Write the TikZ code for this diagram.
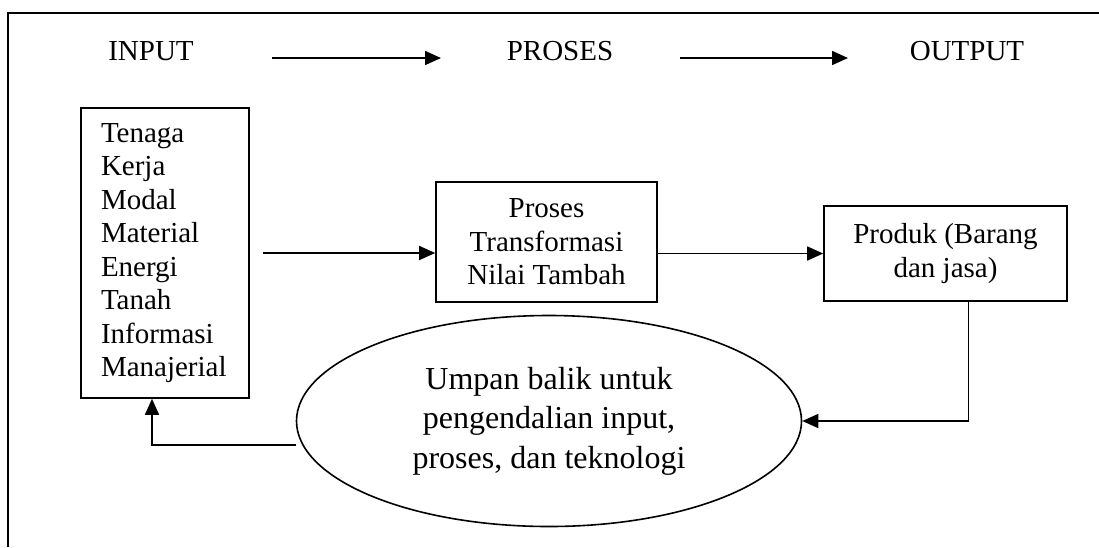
\documentclass[tikz,border=0pt]{standalone}
\usepackage{fontspec}
\setmainfont{Liberation Serif}
\usetikzlibrary{arrows.meta,shapes.geometric}
\begin{document}
\begin{tikzpicture}[x=1pt,y=-1pt,line width=1.6pt,
  arr/.style={-{Triangle[length=16pt,width=14pt]}},
  box/.style={draw,rectangle,font=\fontsize{29}{33.5}\selectfont},
  lbl/.style={font=\fontsize{29}{33.5}\selectfont,anchor=base,inner sep=0pt}]
\useasboundingbox (0,0) rectangle (1099,547);
\draw (8,547) -- (8,13) -- (1099,13);
% header
\node[lbl] (hin) at (151,60) {INPUT};
\node[lbl] (hpro) at (560,60) {PROSES};
\node[lbl] (hout) at (967,60) {OUTPUT};
\coordinate (a1) at (272,58);
\coordinate (a2) at (441,58);
\coordinate (a3) at (680,58);
\coordinate (a4) at (848,58);
\draw [arr] (a1) -- (a2);
\draw [arr] (a3) -- (a4);
% boxes
\node[box,align=left,text width=128pt,inner xsep=20pt,inner ysep=0pt,minimum height=290pt] (inbox) at (165,253)
  {Tenaga\\Kerja\\Modal\\Material\\Energi\\Tanah\\Informasi\\Manajerial};
\node[box,align=center,minimum width=221pt,minimum height=120pt,inner sep=0pt] (proc) at (546.5,242)
  {Proses\\Transformasi\\Nilai Tambah};
\node[box,align=center,minimum width=243pt,minimum height=95pt,inner sep=0pt] (outbox) at (945.5,253.5)
  {Produk (Barang\\dan jasa)};
\node[draw,ellipse,align=center,minimum width=505pt,minimum height=211pt,inner sep=0pt,
  font=\fontsize{32}{39.5}\selectfont] (fb) at (549,421)
  {Umpan balik untuk\\pengendalian input,\\proses, dan teknologi};
% connectors
\draw [arr] ([xshift=13pt]inbox.east) -- (inbox.east -| proc.west);
\draw [arr] (proc.east |- outbox.west) -- (outbox.west);
\draw [arr] ([xshift=23pt]outbox.south) |- (fb.east);
\draw [arr] ([yshift=-24pt]fb.west) -| ([xshift=-13pt]inbox.south);
\end{tikzpicture}
\end{document}
